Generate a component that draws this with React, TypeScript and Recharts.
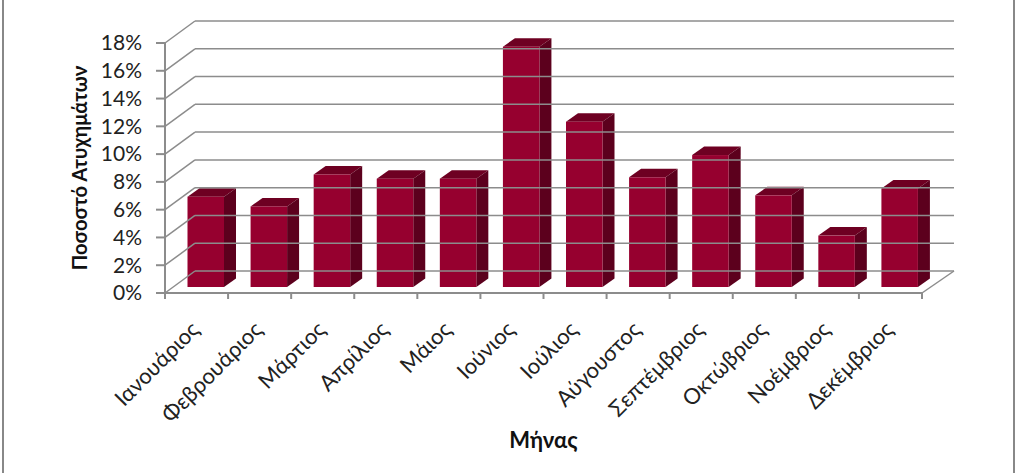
import { Bar, BarChart, Label, XAxis, YAxis } from 'recharts';

const months = [
    'Ιανουάριος',
    'Φεβρουάριος',
    'Μάρτιος',
    'Απρίλιος',
    'Μάιος',
    'Ιούνιος',
    'Ιούλιος',
    'Αύγουστος',
    'Σεπτέμβριος',
    'Οκτώβριος',
    'Νοέμβριος',
    'Δεκέμβριος',
];
const accidentShare = [6.5, 5.8, 8.1, 7.8, 7.8, 17.3, 11.9, 7.9, 9.5, 6.6, 3.7, 7.1];
const percentTicks = [0, 2, 4, 6, 8, 10, 12, 14, 16, 18];

const data = months.map((name, i) => ({ name, value: accidentShare[i] }));

const FONT = 'Lato, "Open Sans", sans-serif';
const AXIS_GRAY = '#8c8c8c';
const TEXT = '#222222';
const WALL_DX = 30;
const WALL_DY = 22;
const WALL_RIGHT = 954;

// front face sits part way into the floor, so shift it off the axis
const BAR_SHIFT_X = 9.5;
const BAR_SHIFT_Y = -6;
const BAR_DX = 12;
const BAR_DY = 8.5;

const Bar3D = ({ x, y, width, height }: any) => {
    const left = x + BAR_SHIFT_X;
    const top = y + BAR_SHIFT_Y;
    const right = left + width;
    const bottom = top + height;
    return (
        <g>
            <polygon
                points={`${left},${top} ${left + BAR_DX},${top - BAR_DY} ${right + BAR_DX},${top - BAR_DY} ${right},${top}`}
                fill="#6e0022"
            />
            <polygon
                points={`${right},${top} ${right + BAR_DX},${top - BAR_DY} ${right + BAR_DX},${bottom - BAR_DY} ${right},${bottom}`}
                fill="#5c001d"
            />
            <rect x={left} y={top} width={width} height={height} fill="#96002f" />
        </g>
    );
};

// y tick: label, tick mark, side wall line and back wall line
const PercentTick = ({ x, y, payload }: any) => {
    return (
        <g>
            <line x1={156} y1={y} x2={165} y2={y} stroke={AXIS_GRAY} strokeWidth={2} />
            <line
                x1={165}
                y1={y}
                x2={165 + WALL_DX}
                y2={y - WALL_DY}
                stroke={AXIS_GRAY}
                strokeWidth={1.5}
            />
            <line
                x1={165 + WALL_DX}
                y1={y - WALL_DY}
                x2={WALL_RIGHT}
                y2={y - WALL_DY}
                stroke={AXIS_GRAY}
                strokeWidth={1.5}
            />
            <text
                x={x - 15}
                y={y + 2}
                textAnchor="end"
                dominantBaseline="middle"
                fontFamily={FONT}
                fontSize={21}
                fill={TEXT}
            >
                {payload.value}%
            </text>
        </g>
    );
};

const MonthTick = ({ x, y, payload, index }: any) => {
    const band = 63.08;
    return (
        <g>
            <line
                x1={x - band / 2}
                y1={y - 8}
                x2={x - band / 2}
                y2={y - 2}
                stroke={AXIS_GRAY}
                strokeWidth={2}
            />
            {index === months.length - 1 && (
                <>
                    <line
                        x1={x + band / 2}
                        y1={y - 8}
                        x2={x + band / 2}
                        y2={y - 2}
                        stroke={AXIS_GRAY}
                        strokeWidth={2}
                    />
                    <line
                        x1={x + band / 2}
                        y1={y - 8}
                        x2={WALL_RIGHT}
                        y2={y - 8 - WALL_DY}
                        stroke={AXIS_GRAY}
                        strokeWidth={1.5}
                    />
                </>
            )}
            <text
                x={x + 4}
                y={y + 30}
                textAnchor="end"
                fontFamily={FONT}
                fontSize={22}
                fill={TEXT}
                transform={`rotate(-45 ${x + 4} ${y + 30})`}
            >
                {payload.value}
            </text>
        </g>
    );
};

const App = () => {
    return (
        <div
            style={{
                position: 'absolute',
                left: 0,
                top: 0,
                width: 1016,
                height: 473,
                background: '#ffffff',
            }}
        >
            <div style={{ position: 'absolute', left: 2, top: 0, width: 2, height: 473, background: '#888888' }} />
            <div style={{ position: 'absolute', left: 1013, top: 0, width: 2, height: 473, background: '#888888' }} />
            <BarChart
                width={1016}
                height={473}
                data={data}
                margin={{ top: 43, right: 94, bottom: 0, left: 0 }}
                barSize={36.5}
            >
                <XAxis
                    dataKey="name"
                    height={180}
                    interval={0}
                    stroke={AXIS_GRAY}
                    strokeWidth={2}
                    tickLine={false}
                    tick={<MonthTick />}
                >
                    <Label
                        value="Μήνας"
                        position="insideBottom"
                        offset={25}
                        fontFamily={FONT}
                        fontSize={22}
                        fontWeight={700}
                        fill="#111111"
                    />
                </XAxis>
                <YAxis
                    width={165}
                    domain={[0, 18]}
                    ticks={percentTicks}
                    interval={0}
                    stroke={AXIS_GRAY}
                    strokeWidth={2}
                    tickLine={false}
                    tick={<PercentTick />}
                >
                    <Label
                        value="Ποσοστό Ατυχημάτων"
                        angle={-90}
                        position="insideLeft"
                        offset={80}
                        fontFamily={FONT}
                        fontSize={20.2}
                        fontWeight={700}
                        fill="#111111"
                        style={{ textAnchor: 'middle' }}
                    />
                </YAxis>
                <Bar dataKey="value" isAnimationActive={false} shape={<Bar3D />} />
            </BarChart>
        </div>
    );
};

export default App;
